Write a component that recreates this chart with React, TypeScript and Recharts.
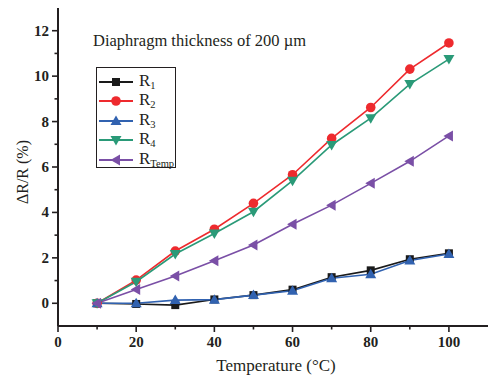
import React from 'react';
import { LineChart, Line, XAxis, YAxis } from 'recharts';

document.body.style.margin = '0';

const temps = [10, 20, 30, 40, 50, 60, 70, 80, 90, 100];
const r1 = [0, -0.03, -0.08, 0.17, 0.36, 0.6, 1.15, 1.45, 1.94, 2.2];
const r2 = [0, 1.02, 2.3, 3.26, 4.4, 5.66, 7.26, 8.62, 10.31, 11.46];
const r3 = [0, 0.0, 0.14, 0.16, 0.36, 0.55, 1.1, 1.28, 1.88, 2.17];
const r4 = [0, 0.95, 2.17, 3.07, 4.03, 5.4, 6.97, 8.15, 9.65, 10.75];
const rTemp = [0, 0.61, 1.2, 1.87, 2.57, 3.48, 4.32, 5.28, 6.25, 7.37];

const xTicks = [0, 10, 20, 30, 40, 50, 60, 70, 80, 90, 100];
const yTicks = [0, 1, 2, 3, 4, 5, 6, 7, 8, 9, 10, 11, 12];

const data = temps.map((t, i) => ({ t, r1: r1[i], r2: r2[i], r3: r3[i], r4: r4[i], rTemp: rTemp[i] }));

const AXIS = '#231f20';
const FONT = '"Liberation Serif", "Times New Roman", serif';

const series = [
  { key: 'r1', name: 'R', sub: '1', color: '#1a1a1a', shape: 'square' },
  { key: 'r2', name: 'R', sub: '2', color: '#ee2a2e', shape: 'circle' },
  { key: 'r3', name: 'R', sub: '3', color: '#3162b0', shape: 'up' },
  { key: 'r4', name: 'R', sub: '4', color: '#2a9a78', shape: 'down' },
  { key: 'rTemp', name: 'R', sub: 'Temp', color: '#7a4fa6', shape: 'left' },
];

const Marker = ({ cx, cy, shape, color }: any) => {
  if (cx == null || cy == null) return null;
  switch (shape) {
    case 'square':
      return <rect x={cx - 4} y={cy - 4} width={8} height={8} fill={color} />;
    case 'circle':
      return <circle cx={cx} cy={cy} r={4.8} fill={color} />;
    case 'up':
      return <polygon points={`${cx},${cy - 5.5} ${cx + 5.5},${cy + 4} ${cx - 5.5},${cy + 4}`} fill={color} />;
    case 'down':
      return <polygon points={`${cx},${cy + 5.5} ${cx + 5.5},${cy - 4} ${cx - 5.5},${cy - 4}`} fill={color} />;
    default:
      return <polygon points={`${cx - 5.5},${cy} ${cx + 4},${cy - 5.5} ${cx + 4},${cy + 5.5}`} fill={color} />;
  }
};

const XTick = ({ x, y, payload }: any) => {
  const major = payload.value % 20 === 0;
  return (
    <g>
      <line x1={x} x2={x} y1={y} y2={y + (major ? 6 : 3.5)} stroke={AXIS} strokeWidth={1.6} />
      {major && (
        <text x={x} y={y + 21} textAnchor="middle" fontFamily={FONT} fontWeight="bold" fontSize={15} fill={AXIS}>
          {payload.value}
        </text>
      )}
    </g>
  );
};

const YTick = ({ x, y, payload }: any) => {
  const major = payload.value % 2 === 0;
  return (
    <g>
      <line x1={x - (major ? 6 : 3.5)} x2={x} y1={y} y2={y} stroke={AXIS} strokeWidth={1.6} />
      {major && (
        <text x={x - 9} y={y + 5} textAnchor="end" fontFamily={FONT} fontWeight="bold" fontSize={15} fill={AXIS}>
          {payload.value}
        </text>
      )}
    </g>
  );
};

const LegendBox = () => (
  <div
    style={{
      position: 'absolute',
      left: 96,
      top: 67,
      border: `1.5px solid ${AXIS}`,
      width: 80,
      height: 101,
      background: '#fff',
      boxSizing: 'border-box',
      padding: '4px 0 0 2px',
    }}
  >
    {series.map((s) => (
      <div key={s.key} style={{ display: 'flex', alignItems: 'center', height: 19.5 }}>
        <svg width={34} height={14}>
          <line x1={0} x2={34} y1={7} y2={7} stroke={s.color} strokeWidth={1.8} />
          <Marker cx={17} cy={7} shape={s.shape} color={s.color} />
        </svg>
        <span style={{ fontFamily: FONT, fontSize: 17, color: AXIS, marginLeft: 6, lineHeight: '16px' }}>
          {s.name}
          <span style={{ fontSize: 10.5, position: 'relative', top: 3 }}>{s.sub}</span>
        </span>
      </div>
    ))}
  </div>
);

export default function App() {
  return (
    <div style={{ position: 'relative', width: 491, height: 378, background: '#fff' }}>
      <LineChart width={491} height={378} data={data} margin={{ top: 8, right: 3, bottom: 22, left: 0 }}>
        <XAxis
          dataKey="t"
          type="number"
          domain={[0, 110]}
          ticks={xTicks}
          interval={0}
          height={30}
          tickSize={0}
          tickMargin={0}
          tickLine={false}
          tick={<XTick />}
          axisLine={{ stroke: AXIS, strokeWidth: 2 }}
        />
        <XAxis xAxisId="top" orientation="top" dataKey="t" type="number" domain={[0, 110]} height={0} tick={false} tickLine={false} axisLine={{ stroke: AXIS, strokeWidth: 2 }} />
        <YAxis
          type="number"
          domain={[-1, 13]}
          ticks={yTicks}
          interval={0}
          width={58}
          tickSize={0}
          tickMargin={0}
          tickLine={false}
          tick={<YTick />}
          axisLine={{ stroke: AXIS, strokeWidth: 2 }}
        />
        <YAxis yAxisId="right" orientation="right" type="number" domain={[-1, 13]} width={0} tick={false} tickLine={false} axisLine={{ stroke: AXIS, strokeWidth: 2 }} />
        {series.map((s) => (
          <Line
            key={s.key}
            dataKey={s.key}
            name={s.name + s.sub}
            stroke={s.color}
            strokeWidth={1.6}
            isAnimationActive={false}
            dot={(p: any) => <Marker key={`${s.key}-${p.index}`} cx={p.cx} cy={p.cy} shape={s.shape} color={s.color} />}
            activeDot={false}
          />
        ))}
      </LineChart>
      <LegendBox />
      <div style={{ position: 'absolute', left: 93, top: 31, fontFamily: FONT, fontSize: 16.5, color: AXIS, whiteSpace: 'nowrap' }}>
        Diaphragm thickness of 200 µm
      </div>
      <div
        style={{
          position: 'absolute',
          left: 23,
          top: 172,
          transform: 'translate(-50%, -50%) rotate(-90deg)',
          fontFamily: FONT,
          fontSize: 16,
          color: AXIS,
          whiteSpace: 'nowrap',
        }}
      >
        ΔR/R (%)
      </div>
      <div
        style={{
          position: 'absolute',
          left: 276,
          top: 366,
          transform: 'translate(-50%, -50%)',
          fontFamily: FONT,
          fontSize: 17,
          color: AXIS,
          whiteSpace: 'nowrap',
        }}
      >
        Temperature (°C)
      </div>
    </div>
  );
}
